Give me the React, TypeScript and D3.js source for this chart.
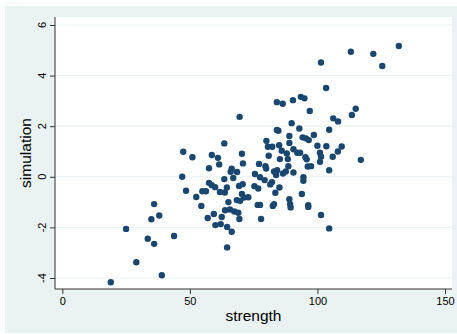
import { useEffect, useRef } from 'react'
import * as d3 from 'd3'

// values
const strength = [
  19.0, 25.0, 29.0, 33.5, 36.0, 34.9, 38.0, 36.0, 39.0, 43.8,
  69.5, 63.5, 47.4, 51.0, 58.6, 61.0, 61.5, 57.5, 70.4, 70.8,
  66.4, 66.0, 68.5, 47.0, 63.5, 67.0, 48.5, 54.9, 56.3, 57.5,
  58.6, 59.9, 61.8, 64.5, 69.3, 70.7, 70.4, 63.7, 71.2, 72.9,
  52.5, 54.5, 65.1, 68.4, 69.7, 63.8, 65.7, 67.4, 69.0, 59.4,
  57.0, 62.5, 69.4, 60.0, 62.1, 64.6, 66.4, 64.6, 93.5, 94.9,
  84.1, 86.4, 90.4, 97.0, 89.9, 92.9, 84.1, 84.7, 89.0, 89.0,
  94.2, 95.5, 96.6, 98.6, 80.0, 80.6, 82.3, 85.0, 86.0, 88.0,
  90.6, 92.1, 93.2, 95.3, 95.8, 80.9, 85.3, 88.4, 77.1, 79.6,
  79.9, 88.6, 83.0, 84.2, 87.6, 96.2, 97.5, 75.5, 90.6, 77.5,
  79.3, 83.8, 86.5, 75.3, 76.8, 81.5, 82.2, 85.1, 94.5, 94.5,
  83.5, 93.9, 89.0, 89.3, 89.5, 76.6, 77.5, 82.5, 83.0, 96.4,
  96.4, 77.9, 101.4, 113.1, 121.9, 125.4, 131.9, 103.4, 115.0, 113.5,
  106.2, 108.1, 104.6, 100.0, 103.5, 109.5, 108.0, 101.0, 101.4, 101.0,
  106.0, 104.6, 117.0, 101.4, 104.6,
]

const simulation = [
  -4.17, -2.06, -3.38, -2.45, -2.65, -1.68, -1.53, -1.08, -3.89, -2.34,
  2.37, 1.32, 0.99, 0.77, 0.86, 0.75, 0.49, 0.34, 0.91, 0.53,
  0.32, 0.2, 0.19, 0.0, -0.09, -0.05, -0.55, -0.57, -0.57, -0.24,
  -0.33, -0.41, -0.6, -0.42, -0.36, -0.29, -0.68, -0.62, -0.82, -0.81,
  -0.8, -1.15, -1.0, -0.92, -0.95, -1.32, -1.29, -1.37, -1.42, -1.47,
  -1.63, -1.59, -1.67, -1.91, -1.87, -1.98, -2.17, -2.79, 3.16, 3.1,
  2.95, 2.89, 3.03, 2.6, 2.12, 1.91, 1.85, 1.82, 1.61, 1.34,
  1.56, 1.52, 1.45, 1.65, 1.42, 1.19, 1.19, 1.25, 1.03, 0.92,
  1.09, 0.95, 0.95, 0.77, 0.69, 0.83, 0.7, 0.7, 0.51, 0.42,
  0.33, 0.42, 0.21, 0.26, 0.21, 0.41, 0.42, 0.11, 0.17, -0.02,
  -0.13, 0.07, 0.13, -0.37, -0.46, -0.3, -0.21, -0.42, -0.02, -0.16,
  -0.63, -0.68, -0.89, -1.08, -1.21, -1.11, -1.11, -1.15, -1.08, -1.12,
  -1.19, -1.67, 4.52, 4.94, 4.86, 4.38, 5.17, 3.51, 2.69, 2.44,
  2.31, 2.19, 1.86, 1.23, 1.21, 1.2, 1.0, 0.95, 0.79, 0.59,
  0.79, 0.26, 0.67, -1.51, -2.04,
]

const xTicks = [0, 50, 100, 150]
const yTicks = [-4, -2, 0, 2, 4, 6]

export default function App() {
  const svgRef = useRef<SVGSVGElement>(null)
  const width = 457
  const height = 334

  useEffect(() => {
    if (!svgRef.current) return
    const svg = d3.select(svgRef.current)
    svg.selectAll('*').remove()

    const font = '"Liberation Sans", Arial, Helvetica, sans-serif'
    const plot = { left: 55, right: 452, top: 17, bottom: 289 }

    const x = d3.scaleLinear().domain([0, 150]).range([62.3, 445])
    const y = d3.scaleLinear().domain([-4, 6]).range([278, 25])

    // graph region
    svg.append('rect')
      .attr('x', 5).attr('y', 6)
      .attr('width', width - 5).attr('height', height - 7)
      .attr('fill', '#eaf2f3')

    // plot region
    svg.append('rect')
      .attr('x', plot.left).attr('y', plot.top)
      .attr('width', plot.right - plot.left)
      .attr('height', plot.bottom - plot.top)
      .attr('fill', '#ffffff')

    svg.append('g')
      .selectAll('line')
      .data(yTicks)
      .join('line')
      .attr('x1', plot.left)
      .attr('x2', plot.right)
      .attr('y1', (d) => y(d))
      .attr('y2', (d) => y(d))
      .attr('stroke', '#eaf2f3')
      .attr('stroke-width', 1.2)

    const pts = strength.map((s, i) => [s, simulation[i]] as [number, number])
    svg.append('g')
      .selectAll('circle')
      .data(pts)
      .join('circle')
      .attr('cx', (d) => x(d[0]))
      .attr('cy', (d) => y(d[1]))
      .attr('r', 3.2)
      .attr('fill', '#1a476f')

    // x axis
    const xAxis = d3.axisBottom(x).tickValues(xTicks).tickSize(5).tickPadding(3)
    const gx = svg.append('g').attr('transform', `translate(0,${plot.bottom})`).call(xAxis)
    gx.select('.domain').attr('d', `M${plot.left},0H${plot.right}`).attr('stroke', '#333')
    gx.selectAll('.tick line').attr('stroke', '#333')
    gx.selectAll('.tick text')
      .style('font-family', font)
      .style('font-size', '11px')
      .attr('fill', '#000')

    // y axis, labels turned like the reference
    const yAxis = d3.axisLeft(y).tickValues(yTicks).tickSize(5).tickFormat(() => '')
    const gy = svg.append('g').attr('transform', `translate(${plot.left},0)`).call(yAxis)
    gy.select('.domain').attr('d', `M0,${plot.top}V${plot.bottom}`).attr('stroke', '#333')
    gy.selectAll('.tick line').attr('stroke', '#333')

    svg.append('g')
      .selectAll('text')
      .data(yTicks)
      .join('text')
      .attr('transform', (d) => `translate(42,${y(d)}) rotate(-90)`)
      .attr('text-anchor', 'middle')
      .attr('dy', '0.35em')
      .style('font-family', font)
      .style('font-size', '11px')
      .text((d) => String(d))

    svg.append('text')
      .attr('x', (plot.left + plot.right) / 2)
      .attr('y', 321)
      .attr('text-anchor', 'middle')
      .style('font-family', font)
      .style('font-size', '15.5px')
      .text('strength')

    svg.append('text')
      .attr('transform', `translate(26,${(plot.top + plot.bottom) / 2}) rotate(-90)`)
      .attr('text-anchor', 'middle')
      .attr('dy', '0.35em')
      .style('font-family', font)
      .style('font-size', '15.5px')
      .text('simulation')
  }, [])

  return (
    <div style={{ position: 'absolute', left: 0, top: 0 }}>
      <svg ref={svgRef} width={width} height={height} style={{ display: 'block', background: '#fff' }} />
    </div>
  )
}
